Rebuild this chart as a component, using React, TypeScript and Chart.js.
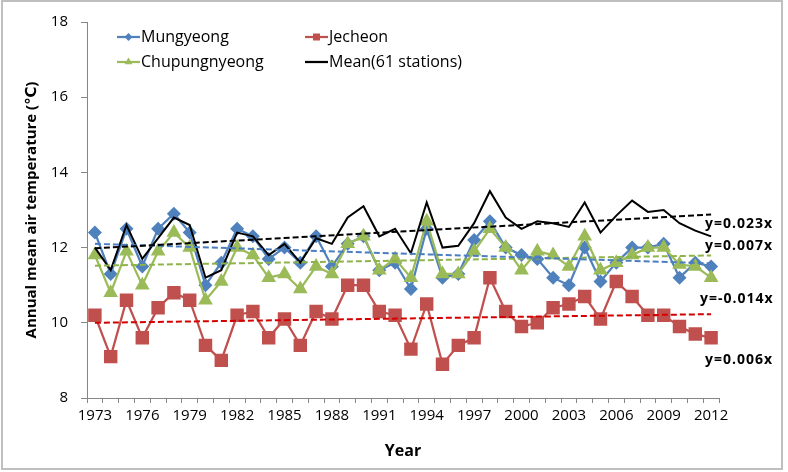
import React, { useEffect, useRef } from "react";
import { Chart, registerables } from "chart.js";

Chart.register(...registerables);

const years = [
  "1973", "1974", "1975", "1976", "1977", "1978", "1979", "1980", "1981", "1982",
  "1983", "1984", "1985", "1986", "1987", "1988", "1989", "1990", "1991", "1992",
  "1993", "1994", "1995", "1996", "1997", "1998", "1999", "2000", "2001", "2002",
  "2003", "2004", "2005", "2006", "2007", "2008", "2009", "2010", "2011", "2012",
];

const shownYearLabels = [
  "1973", "1976", "1979", "1982", "1985", "1988", "1991", "1994", "1997", "2000",
  "2003", "2006", "2009", "2012",
];

const yTickValues = [8, 10, 12, 14, 16, 18];

const mungyeong = [
  12.4, 11.3, 12.5, 11.5, 12.5, 12.9, 12.4, 11.0, 11.6, 12.5,
  12.3, 11.7, 12.0, 11.6, 12.3, 11.5, 12.1, 12.3, 11.4, 11.6,
  10.9, 12.5, 11.2, 11.3, 12.2, 12.7, 12.0, 11.8, 11.7, 11.2,
  11.0, 12.0, 11.1, 11.6, 12.0, 12.0, 12.1, 11.2, 11.6, 11.5,
];

const jecheon = [
  10.2, 9.1, 10.6, 9.6, 10.4, 10.8, 10.6, 9.4, 9.0, 10.2,
  10.3, 9.6, 10.1, 9.4, 10.3, 10.1, 11.0, 11.0, 10.3, 10.2,
  9.3, 10.5, 8.9, 9.4, 9.6, 11.2, 10.3, 9.9, 10.0, 10.4,
  10.5, 10.7, 10.1, 11.1, 10.7, 10.2, 10.2, 9.9, 9.7, 9.6,
];

const chupungnyeong = [
  11.8, 10.8, 11.9, 11.0, 11.9, 12.4, 12.0, 10.6, 11.1, 12.0,
  11.8, 11.2, 11.3, 10.9, 11.5, 11.3, 12.1, 12.3, 11.4, 11.7,
  11.2, 12.7, 11.3, 11.3, 11.9, 12.5, 12.0, 11.4, 11.9, 11.8,
  11.5, 12.3, 11.4, 11.6, 11.8, 12.0, 12.0, 11.55, 11.5, 11.2,
];

const mean61 = [
  12.0, 11.4, 12.6, 11.7, 12.25, 12.8, 12.6, 11.2, 11.4, 12.4,
  12.3, 11.8, 12.1, 11.6, 12.25, 12.1, 12.8, 13.1, 12.3, 12.5,
  11.85, 13.2, 12.0, 12.05, 12.65, 13.5, 12.8, 12.5, 12.7, 12.65,
  12.55, 13.2, 12.4, 12.85, 13.25, 12.95, 13.0, 12.65, 12.45, 12.3,
];

// Trend line end values (first year, last year)
const trendMean = [11.98, 12.88];
const trendMungyeong = [12.1, 11.58];
const trendChupungnyeong = [11.52, 11.79];
const trendJecheon = [10.0, 10.23];

const trendLabels = ["y=0.023x", "y=0.007x", "y=-0.014x", "y=0.006x"];
const trendLabelAt = [12.63, 12.03, 10.63, 9.0];

const FONT = "'Open Sans', 'DejaVu Sans', sans-serif";

const BLUE = "#4F81BD";
const RED = "#C0504D";
const GREEN = "#9BBB59";
const BLACK = "#000000";

function endpoints(pair: number[]): (number | null)[] {
  return years.map((_, i) => (i === 0 ? pair[0] : i === years.length - 1 ? pair[1] : null));
}

function drawMarker(ctx: CanvasRenderingContext2D, style: string, x: number, y: number, r: number, color: string) {
  ctx.save();
  ctx.fillStyle = color;
  ctx.beginPath();
  if (style === "rectRot") {
    ctx.moveTo(x, y - r);
    ctx.lineTo(x + r, y);
    ctx.lineTo(x, y + r);
    ctx.lineTo(x - r, y);
    ctx.closePath();
  } else if (style === "rect") {
    ctx.rect(x - r, y - r, 2 * r, 2 * r);
  } else if (style === "triangle") {
    ctx.moveTo(x, y - r);
    ctx.lineTo(x + r * 0.866, y + r * 0.5);
    ctx.lineTo(x - r * 0.866, y + r * 0.5);
    ctx.closePath();
  }
  ctx.fill();
  ctx.restore();
}

const decorPlugin = {
  id: "decor",
  beforeDraw(chart: any) {
    const ctx = chart.ctx as CanvasRenderingContext2D;
    ctx.save();
    ctx.fillStyle = "#ffffff";
    ctx.fillRect(0, 0, chart.width, chart.height);
    ctx.strokeStyle = "#BFBFBF";
    ctx.lineWidth = 2;
    ctx.strokeRect(2, 1, 780, 468);
    ctx.restore();
  },
  afterDraw(chart: any) {
    const ctx = chart.ctx as CanvasRenderingContext2D;
    const area = chart.chartArea;
    const xs = chart.scales.x;
    const ys = chart.scales.y;

    // Legend
    const items = [
      { label: "Mungyeong", color: BLUE, style: "rectRot", col: 0, row: 0, r: 4 },
      { label: "Jecheon", color: RED, style: "rect", col: 1, row: 0, r: 3.5 },
      { label: "Chupungnyeong", color: GREEN, style: "triangle", col: 0, row: 1, r: 4.5 },
      { label: "Mean(61 stations)", color: BLACK, style: "none", col: 1, row: 1, r: 0 },
    ];
    ctx.save();
    ctx.font = `16px ${FONT}`;
    ctx.textBaseline = "middle";
    ctx.textAlign = "left";
    items.forEach((it) => {
      const x0 = area.left + 30 + it.col * 188;
      const y0 = area.top + 15 + it.row * 25;
      ctx.strokeStyle = it.color;
      ctx.lineWidth = 2.25;
      ctx.beginPath();
      ctx.moveTo(x0, y0);
      ctx.lineTo(x0 + 23, y0);
      ctx.stroke();
      if (it.style !== "none") drawMarker(ctx, it.style, x0 + 11.5, y0, it.r, it.color);
      ctx.fillStyle = "#000";
      ctx.fillText(it.label, x0 + 24, y0);
    });
    ctx.restore();

    // Trend equations
    ctx.save();
    ctx.font = `bold 14px ${FONT}`;
    try {
      (ctx as any).letterSpacing = "1px";
    } catch (e) {
      /* ignore */
    }
    ctx.fillStyle = "#000";
    ctx.textBaseline = "middle";
    ctx.textAlign = "left";
    const xEnd = xs.getPixelForValue(years.length - 1);
    trendLabels.forEach((t, i) => {
      const yPix = ys.getPixelForValue(trendLabelAt[i]);
      const dx = t.includes("-") ? -11 : -6;
      ctx.fillText(t, xEnd + dx, yPix);
    });
    ctx.restore();
  },
};

export default function App() {
  const canvasRef = useRef<HTMLCanvasElement | null>(null);

  useEffect(() => {
    document.body.style.margin = "0";
    const canvas = canvasRef.current;
    if (!canvas) return;

    const dashed = {
      pointRadius: 0,
      pointHoverRadius: 0,
      borderWidth: 2,
      borderDash: [6, 3],
      spanGaps: true,
      fill: false,
      tension: 0,
    };

    const chart = new Chart(canvas, {
      type: "line",
      data: {
        labels: years,
        datasets: [
          {
            label: "Mungyeong",
            data: mungyeong,
            borderColor: BLUE,
            backgroundColor: BLUE,
            borderWidth: 2.25,
            pointStyle: "rectRot",
            pointRadius: 7,
            pointBorderWidth: 0,
            order: 6,
          },
          {
            label: "Jecheon",
            data: jecheon,
            borderColor: RED,
            backgroundColor: RED,
            borderWidth: 2.25,
            pointStyle: "rect",
            pointRadius: 9.5,
            pointBorderWidth: 0,
            order: 5,
          },
          {
            label: "Chupungnyeong",
            data: chupungnyeong,
            borderColor: GREEN,
            backgroundColor: GREEN,
            borderWidth: 2.25,
            pointStyle: "triangle",
            pointRadius: 8.5,
            pointBorderWidth: 0,
            order: 4,
          },
          {
            label: "Mean(61 stations)",
            data: mean61,
            borderColor: BLACK,
            backgroundColor: BLACK,
            borderWidth: 2,
            pointRadius: 0,
            order: 3,
          },
          { label: "trendMungyeong", data: endpoints(trendMungyeong), borderColor: "#4A7EC0", ...dashed, order: 2 },
          { label: "trendJecheon", data: endpoints(trendJecheon), borderColor: "#D40000", ...dashed, order: 2 },
          { label: "trendChupungnyeong", data: endpoints(trendChupungnyeong), borderColor: "#8DB34A", ...dashed, order: 2 },
          { label: "trendMean", data: endpoints(trendMean), borderColor: "#000000", ...dashed, order: 1 },
        ] as any,
      },
      options: {
        responsive: false,
        animation: false,
        devicePixelRatio: 1,
        layout: { padding: { left: 0, top: 18, right: 69, bottom: 0 } },
        plugins: {
          legend: { display: false },
          tooltip: { enabled: false },
          title: { display: false },
        },
        elements: { line: { tension: 0 } },
        scales: {
          x: {
            type: "category",
            offset: true,
            grid: {
              offset: true,
              drawOnChartArea: false,
              drawTicks: true,
              tickLength: 5,
              color: "#868686",
            },
            border: { display: true, color: "#868686", width: 1 },
            ticks: {
              autoSkip: false,
              maxRotation: 0,
              minRotation: 0,
              padding: 4,
              color: "#000",
              font: { family: FONT, size: 15 },
              callback: (_v: any, idx: number) =>
                shownYearLabels.includes(years[idx]) ? years[idx] : "",
            },
            title: {
              display: true,
              text: "Year",
              color: "#000",
              font: { family: FONT, size: 16, weight: "bold" },
              padding: { top: 0, bottom: 11 },
            },
            afterFit: (scale: any) => {
              scale.height = 74;
            },
          },
          y: {
            min: 8,
            max: 18,
            afterBuildTicks: (scale: any) => {
              scale.ticks = yTickValues.map((v) => ({ value: v }));
            },
            grid: {
              drawOnChartArea: false,
              drawTicks: true,
              tickLength: 6,
              color: "#868686",
            },
            border: { display: true, color: "#868686", width: 1 },
            ticks: {
              padding: 13,
              color: "#000",
              font: { family: FONT, size: 15 },
            },
            title: {
              display: true,
              text: "Annual mean air temperature (℃)",
              color: "#000",
              font: { family: FONT, size: 15, weight: "bold" },
              padding: { top: 23, bottom: 0 },
            },
            afterFit: (scale: any) => {
              scale.width = 87;
            },
          },
        },
      } as any,
      plugins: [decorPlugin],
    });

    return () => {
      chart.destroy();
    };
  }, []);

  return (
    <div style={{ position: "fixed", left: 0, top: 0, width: 788, height: 472 }}>
      <canvas ref={canvasRef} width={788} height={472} style={{ width: 788, height: 472, display: "block" }} />
    </div>
  );
}
